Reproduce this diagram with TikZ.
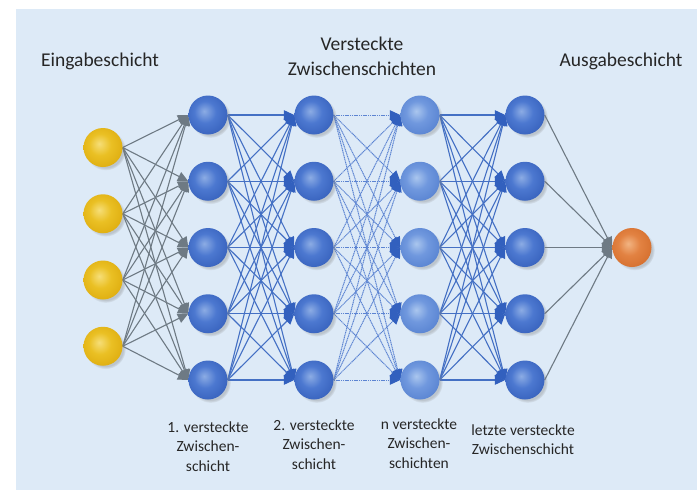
\documentclass[tikz,border=0pt]{standalone}
\usepackage{fontspec}
\setmainfont{Carlito}
\usetikzlibrary{arrows.meta,shadows}
\definecolor{panel}{RGB}{221,234,247}
\definecolor{txt}{RGB}{38,38,38}
\definecolor{grayedge}{RGB}{110,122,132}
\definecolor{blueedge}{RGB}{68,112,196}
\definecolor{dotedge}{RGB}{92,132,210}
\definecolor{bluetip}{RGB}{50,96,190}
% sphere colours
\definecolor{bHi}{RGB}{140,172,228}
\definecolor{bMid}{RGB}{76,120,208}
\definecolor{bLo}{RGB}{48,90,182}
\definecolor{bDk}{RGB}{34,66,150}
\definecolor{lHi}{RGB}{170,198,238}
\definecolor{lMid}{RGB}{112,152,222}
\definecolor{lLo}{RGB}{80,124,205}
\definecolor{lDk}{RGB}{60,100,180}
\definecolor{yHi}{RGB}{246,222,120}
\definecolor{yMid}{RGB}{234,192,36}
\definecolor{yLo}{RGB}{218,166,8}
\definecolor{yDk}{RGB}{188,136,0}
\definecolor{oHi}{RGB}{242,180,130}
\definecolor{oMid}{RGB}{226,130,66}
\definecolor{oLo}{RGB}{208,104,38}
\definecolor{oDk}{RGB}{176,80,20}
\pgfdeclareradialshading{bluesph}{\pgfqpoint{-5bp}{5bp}}{color(0bp)=(bHi); color(14bp)=(bMid); color(36bp)=(bLo); color(56bp)=(bDk)}
\pgfdeclareradialshading{lightsph}{\pgfqpoint{-5bp}{5bp}}{color(0bp)=(lHi); color(14bp)=(lMid); color(36bp)=(lLo); color(56bp)=(lDk)}
\pgfdeclareradialshading{yellowsph}{\pgfqpoint{-5bp}{5bp}}{color(0bp)=(yHi); color(14bp)=(yMid); color(36bp)=(yLo); color(56bp)=(yDk)}
\pgfdeclareradialshading{orangesph}{\pgfqpoint{-5bp}{5bp}}{color(0bp)=(oHi); color(14bp)=(oMid); color(36bp)=(oLo); color(56bp)=(oDk)}
\pgfdeclarelayer{bg}
\pgfdeclarelayer{edges}
\pgfsetlayers{bg,edges,main}
\begin{document}
\begin{tikzpicture}[x=1pt,y=-1pt,
  neuron/.style={circle,minimum size=39pt,inner sep=0pt,
    circular drop shadow={shadow xshift=2.5pt,shadow yshift=-2.5pt,shadow scale=1.04,opacity=0.35}},
  bnode/.style={neuron,shading=bluesph},
  lnode/.style={neuron,shading=lightsph},
  ynode/.style={neuron,shading=yellowsph},
  onode/.style={neuron,shading=orangesph},
  gedge/.style={draw=grayedge,line width=1.1pt,-{Triangle[length=10.5pt,width=9.5pt,color=grayedge]}},
  bedge/.style={draw=blueedge,line width=1.1pt,-{Triangle[length=10.5pt,width=9.5pt,color=bluetip]}},
  dedge/.style={draw=dotedge,line width=1pt,dash pattern=on 1.2pt off 0.6pt,-{Triangle[length=10.5pt,width=9.5pt,color=bluetip]}},
  toplab/.style={text=txt,font=\fontsize{19.5}{25}\selectfont,align=center,inner sep=0pt},
  botlab/.style={text=txt,font=\fontsize{15.5}{19.5}\selectfont,align=center,inner sep=0pt}]
\useasboundingbox (0,0) rectangle (697,490);
\begin{pgfonlayer}{bg}
  \fill[white] (0,0) rectangle (697,490);
  \fill[panel] (16,9) rectangle (697,490);
\end{pgfonlayer}
% input layer
\foreach \i/\y in {1/147.5,2/213.75,3/280,4/346.25}
  \node[ynode] (in-\i) at (103,\y) {};
% hidden layers
\foreach \j/\y in {1/115,2/181.25,3/247.5,4/313.75,5/380}{
  \node[bnode] (ha-\j) at (208,\y) {};
  \node[bnode] (hb-\j) at (314,\y) {};
  \node[lnode] (hc-\j) at (420,\y) {};
  \node[bnode] (hd-\j) at (525,\y) {};
}
% output
\node[onode] (out) at (632,247.5) {};
% connectors
\begin{pgfonlayer}{edges}
  \foreach \i in {1,...,4}
    \foreach \j in {1,...,5}
      \draw[gedge] (in-\i.east) -- (ha-\j.west);
  \foreach \i in {1,...,5}
    \foreach \j in {1,...,5}{
      \draw[bedge] (ha-\i.east) -- (hb-\j.west);
      \draw[dedge] (hb-\i.east) -- (hc-\j.west);
      \draw[bedge] (hc-\i.east) -- (hd-\j.west);
    }
  \foreach \i in {1,...,5}
    \draw[gedge] (hd-\i.east) -- (out.west);
\end{pgfonlayer}
% labels
\node[toplab] (lin) at (100,61) {Eingabeschicht};
\node[toplab] (lhid) at (362,56) {Versteckte\\Zwischenschichten};
\node[toplab] (lout) at (621,61) {Ausgabeschicht};
\node[botlab] (l1) at (208,446.5) {1. versteckte\\Zwischen-\\schicht};
\node[botlab] (l2) at (314,444.5) {2. versteckte\\Zwischen-\\schicht};
\node[botlab] (l3) at (419,443.5) {n versteckte\\Zwischen-\\schichten};
\node[botlab] (l4) at (523,439.5) {letzte versteckte\\Zwischenschicht};
\end{tikzpicture}
\end{document}
